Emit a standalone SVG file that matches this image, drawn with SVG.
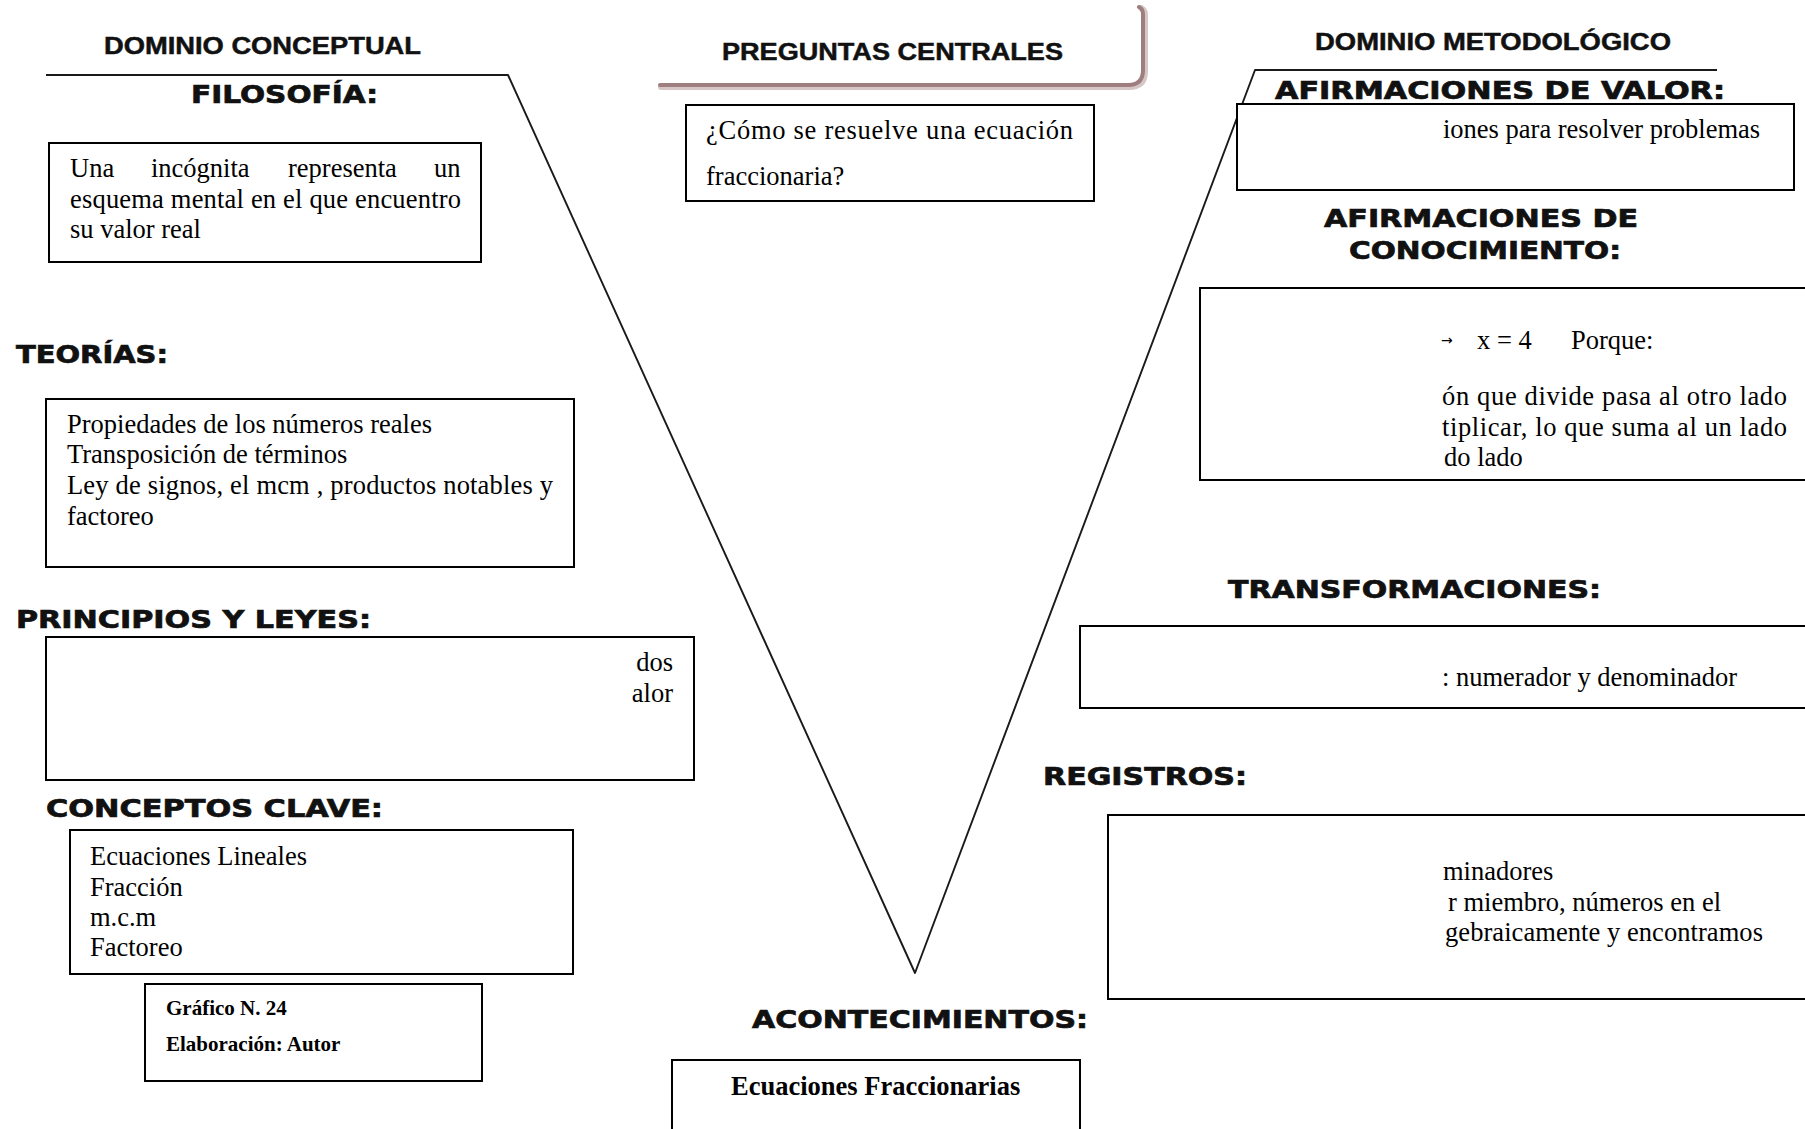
<svg xmlns="http://www.w3.org/2000/svg" width="1805" height="1129" viewBox="0 0 1805 1129">
  <style>
    .h { font-family: "DejaVu Sans", "Liberation Sans", sans-serif; font-weight: bold; font-size: 24px; fill: #111; stroke: #111; stroke-width: 0.7; }
    .d { font-family: "Liberation Sans", Arial, sans-serif; font-weight: bold; font-size: 24px; fill: #111; stroke: #111; stroke-width: 0.5; }
    .t { font-family: "Liberation Serif", "Times New Roman", serif; font-size: 26.5px; fill: #000; }
    .tb { font-family: "Liberation Serif", "Times New Roman", serif; font-weight: bold; fill: #000; }
    .box { fill: #fff; stroke: #000; stroke-width: 2; }
    .vline { fill: none; stroke: #1a1a1a; stroke-width: 1.9; stroke-linejoin: round; }
  </style>

  <rect x="0" y="0" width="1805" height="1129" fill="#fff"/>

  <!-- V shape, domain rules and the header bracket -->
  <g id="connectors">
    <polyline class="vline" points="46,75 508,75 915,973 1255,70 1717,70"/>
    <path d="M 661 87 H 1129 Q 1145 87 1145 71 V 15 Q 1145 10 1141 8" fill="none" stroke="#d6c6c6" stroke-width="6" stroke-linecap="round"/>
    <path d="M 660 85 H 1128 Q 1143 85 1143 70 V 14 Q 1143 9 1139 7" fill="none" stroke="#9e7e7e" stroke-width="4" stroke-linecap="round"/>
  </g>

  <!-- Domain titles -->
  <g id="dominio-conceptual">
    <text class="d" x="104" y="54" textLength="317" lengthAdjust="spacingAndGlyphs">DOMINIO CONCEPTUAL</text>
  </g>
  <g id="dominio-metodologico">
    <text class="d" x="1315" y="50" textLength="356" lengthAdjust="spacingAndGlyphs">DOMINIO METODOLÓGICO</text>
  </g>

  <!-- Central question -->
  <g id="preguntas-centrales">
    <text class="d" x="722" y="60" textLength="341" lengthAdjust="spacingAndGlyphs">PREGUNTAS CENTRALES</text>
    <rect class="box" x="686" y="105" width="408" height="96"/>
    <text class="t" x="706" y="139" textLength="367" lengthAdjust="spacing">¿Cómo se resuelve una ecuación</text>
    <text class="t" x="706" y="185">fraccionaria?</text>
  </g>

  <!-- Conceptual side -->
  <g id="filosofia">
    <text class="h" x="191" y="103" textLength="187" lengthAdjust="spacingAndGlyphs">FILOSOFÍA:</text>
    <rect class="box" x="49" y="143" width="432" height="119"/>
    <text class="t" y="177"><tspan x="70">Una</tspan><tspan x="151">incógnita</tspan><tspan x="288">representa</tspan><tspan x="434">un</tspan></text>
    <text class="t" x="70" y="208" textLength="391" lengthAdjust="spacing">esquema mental en el que encuentro</text>
    <text class="t" x="70" y="238">su valor real</text>
  </g>

  <g id="teorias">
    <text class="h" x="16" y="363" textLength="152" lengthAdjust="spacingAndGlyphs">TEORÍAS:</text>
    <rect class="box" x="46" y="399" width="528" height="168"/>
    <text class="t" x="67" y="433">Propiedades de los números reales</text>
    <text class="t" x="67" y="463">Transposición de términos</text>
    <text class="t" x="67" y="494" textLength="486" lengthAdjust="spacing">Ley de signos, el mcm , productos notables y</text>
    <text class="t" x="67" y="525">factoreo</text>
  </g>

  <g id="principios-leyes">
    <text class="h" x="16" y="628" textLength="355" lengthAdjust="spacingAndGlyphs">PRINCIPIOS Y LEYES:</text>
    <rect class="box" x="46" y="637" width="648" height="143"/>
    <text class="t" x="673" y="671" text-anchor="end">dos</text>
    <text class="t" x="673" y="702" text-anchor="end">alor</text>
  </g>

  <g id="conceptos-clave">
    <text class="h" x="46" y="817" textLength="337" lengthAdjust="spacingAndGlyphs">CONCEPTOS CLAVE:</text>
    <rect class="box" x="70" y="830" width="503" height="144"/>
    <text class="t" x="90" y="865">Ecuaciones Lineales</text>
    <text class="t" x="90" y="896">Fracción</text>
    <text class="t" x="90" y="926">m.c.m</text>
    <text class="t" x="90" y="956">Factoreo</text>
  </g>

  <g id="grafico">
    <rect class="box" x="145" y="984" width="337" height="97"/>
    <text class="tb" x="166" y="1015" font-size="21">Gráfico N. 24</text>
    <text class="tb" x="166" y="1051" font-size="21">Elaboración: Autor</text>
  </g>

  <!-- Event at the vertex -->
  <g id="acontecimientos">
    <text class="h" x="752" y="1028" textLength="336" lengthAdjust="spacingAndGlyphs">ACONTECIMIENTOS:</text>
    <rect class="box" x="672" y="1060" width="408" height="90"/>
    <text class="tb" x="731" y="1095" font-size="26.5">Ecuaciones Fraccionarias</text>
  </g>

  <!-- Methodological side -->
  <g id="afirmaciones-valor">
    <text class="h" x="1275" y="99" textLength="450" lengthAdjust="spacingAndGlyphs">AFIRMACIONES DE VALOR:</text>
    <rect class="box" x="1237" y="104" width="557" height="86"/>
    <text class="t" x="1443" y="138">iones para resolver problemas</text>
  </g>

  <g id="afirmaciones-conocimiento">
    <text class="h" x="1324" y="227" textLength="314" lengthAdjust="spacingAndGlyphs">AFIRMACIONES DE</text>
    <text class="h" x="1349" y="259" textLength="272" lengthAdjust="spacingAndGlyphs">CONOCIMIENTO:</text>
    <rect class="box" x="1200" y="288" width="620" height="192"/>
    <text x="1441" y="345" font-family="DejaVu Sans, sans-serif" font-size="14">→</text>
    <text class="t" x="1477" y="349">x = 4</text>
    <text class="t" x="1571" y="349">Porque:</text>
    <text class="t" x="1442" y="405" textLength="345" lengthAdjust="spacing">ón que divide pasa al otro lado</text>
    <text class="t" x="1442" y="436" textLength="345" lengthAdjust="spacing">tiplicar, lo que suma al un lado</text>
    <text class="t" x="1444" y="466">do lado</text>
  </g>

  <g id="transformaciones">
    <text class="h" x="1228" y="598" textLength="373" lengthAdjust="spacingAndGlyphs">TRANSFORMACIONES:</text>
    <rect class="box" x="1080" y="626" width="740" height="82"/>
    <text class="t" x="1442" y="686" font-size="24">: numerador y denominador</text>
  </g>

  <g id="registros">
    <text class="h" x="1043" y="785" textLength="204" lengthAdjust="spacingAndGlyphs">REGISTROS:</text>
    <rect class="box" x="1108" y="815" width="712" height="184"/>
    <text class="t" x="1443" y="880">minadores</text>
    <text class="t" x="1448" y="911">r miembro, números en el</text>
    <text class="t" x="1445" y="941" textLength="318" lengthAdjust="spacing">gebraicamente y encontramos</text>
  </g>
</svg>
